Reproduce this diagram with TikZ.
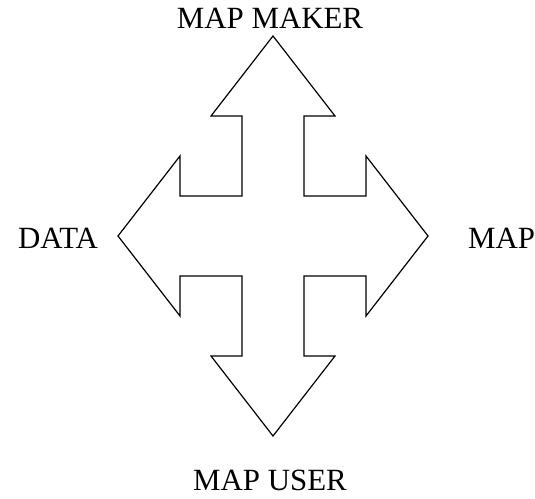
\documentclass[tikz,border=0pt]{standalone}
\usepackage{fontspec}
\setmainfont{Liberation Serif}
\usepackage{xcolor}
\usepackage{tikz}
\definecolor{Ink}{HTML}{000000}

\begin{document}
\begin{tikzpicture}[x=1bp, y=1bp,
  label/.style={inner sep=0pt, text=Ink, font=\fontsize{31}{37}\selectfont}]

  \useasboundingbox (0,0) rectangle (535,499);

  % ===== FOUR-WAY ARROW =====
  \begin{scope}[shift={(273,263)}, x=31bp, y=40bp]
    \draw[line width=1.2bp, Ink, line join=miter]
      (0,5) -- (2,3) -- (1,3) -- (1,1) -- (3,1) -- (3,2) -- (5,0)
      -- (3,-2) -- (3,-1) -- (1,-1) -- (1,-3) -- (2,-3) -- (0,-5)
      -- (-2,-3) -- (-1,-3) -- (-1,-1) -- (-3,-1) -- (-3,-2) -- (-5,0)
      -- (-3,2) -- (-3,1) -- (-1,1) -- (-1,3) -- (-2,3) -- cycle;
  \end{scope}

  % ===== LABELS =====
  \node[label, anchor=base] (maker) at (270,470) {MAP MAKER};
  \node[label, anchor=base] (data) at (58,250) {DATA};
  \node[label, anchor=base west] (map) at (468,250) {MAP};
  \node[label, anchor=base] (user) at (270,8) {MAP USER};

\end{tikzpicture}
\end{document}
